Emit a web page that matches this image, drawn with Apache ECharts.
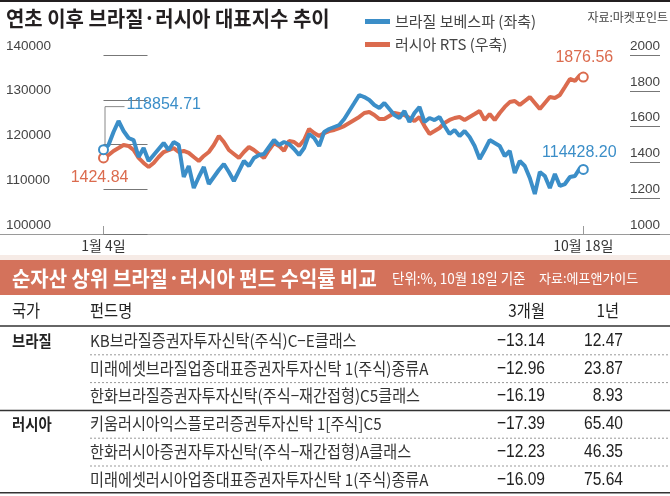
<!DOCTYPE html>
<html>
<head>
<meta charset="utf-8">
<script src="https://cdn.jsdelivr.net/npm/echarts@6/dist/echarts.min.js"></script>
<style>
  html, body { margin: 0; padding: 0; background: #fff; }
  #chart { width: 670px; height: 496px; }
</style>
</head>
<body>
<div id="chart"></div>
<script>
// days since 2021-01-04
const dayOffsets = [
  0, 3, 6, 9, 12, 15, 18, 21, 24, 27,
  30, 33, 36, 39, 42, 45, 48, 51, 54, 57,
  60, 63, 66, 69, 72, 75, 78, 81, 84, 87,
  90, 93, 96, 99, 102, 105, 108, 111, 114, 117,
  120, 123, 126, 129, 132, 135, 138, 141, 144, 147,
  150, 153, 156, 159, 162, 165, 168, 171, 174, 177,
  180, 183, 186, 189, 192, 195, 198, 201, 204, 207,
  210, 213, 216, 219, 222, 225, 228, 231, 234, 237,
  240, 243, 246, 249, 252, 255, 258, 261, 264, 267,
  270, 273, 276, 279, 282, 285, 287
];

// 브라질 보베스파 (좌축)
const bovespa = [
  118854.71, 119890, 122790, 125250, 123020, 121450, 121000, 117210, 119220, 116310,
  117650, 118990, 120330, 118770, 120560, 119890, 112740, 115200, 110280, 112740,
  114970, 111170, 112740, 114300, 115640, 113850, 111840, 114080, 116310, 115200,
  116980, 117650, 117880, 119440, 121000, 119890, 120560, 120110, 118990, 117650,
  119220, 122350, 121450, 119660, 122790, 123460, 123910, 124360, 125700, 127490,
  129270, 131060, 130610, 129940, 128830, 128160, 129270, 127930, 126590, 125920,
  127490, 125030, 127040, 128380, 125030, 125920, 125470, 126150, 124130, 122350,
  123240, 121900, 123020, 121680, 119660, 116760, 118770, 121000, 120330, 119660,
  117430, 118550, 113630, 116310, 115200, 112510, 108940, 113850, 112960, 110280,
  113410, 110730, 111170, 112740, 112960, 114750, 114428.20
];

// 러시아 RTS (우축)
const rts = [
  1424.84, 1441, 1464, 1480, 1497, 1492, 1469, 1425, 1397, 1374,
  1397, 1430, 1458, 1469, 1480, 1458, 1464, 1453, 1430, 1408,
  1436, 1458, 1497, 1548, 1514, 1469, 1447, 1425, 1458, 1486,
  1469, 1447, 1425, 1469, 1508, 1492, 1464, 1520, 1514, 1492,
  1525, 1587, 1564, 1548, 1564, 1575, 1581, 1592, 1603, 1620,
  1637, 1654, 1676, 1682, 1665, 1642, 1642, 1659, 1676, 1670,
  1665, 1648, 1631, 1654, 1603, 1559, 1575, 1592, 1620, 1637,
  1648, 1654, 1637, 1654, 1670, 1687, 1637, 1670, 1637, 1676,
  1710, 1737, 1743, 1721, 1743, 1765, 1732, 1698, 1732, 1765,
  1760, 1777, 1821, 1866, 1855, 1888, 1876.56
];

const xTickDays = [0, 287];
const xTickLabels = ['1월 4일', '10월 18일'];

// table
const rowCountry = ['브라질', '브라질', '브라질', '러시아', '러시아', '러시아'];
const fundNames = [
  'KB브라질증권자투자신탁(주식)C−E클래스',
  '미래에셋브라질업종대표증권자투자신탁 1(주식)종류A',
  '한화브라질증권자투자신탁(주식−재간접형)C5클래스',
  '키움러시아익스플로러증권투자신탁 1[주식]C5',
  '한화러시아증권자투자신탁(주식−재간접형)A클래스',
  '미래에셋러시아업종대표증권자투자신탁 1(주식)종류A'
];
const ret3m = [-13.14, -12.96, -16.19, -17.39, -12.23, -16.09];
const ret1y = [12.47, 23.87, 8.93, 65.40, 46.35, 75.64];

const BLUE = '#3b8ec8';
const RED = '#db6b4e';
const KR = "'Noto Sans CJK KR', sans-serif";
const NUM = "'Liberation Sans', Arial, sans-serif";

const chart = echarts.init(document.getElementById('chart'));

function endItem(i, vals, color, labelOpt) {
  const item = { value: [dayOffsets[i], vals[i]] };
  item.itemStyle = { color: '#fff', borderColor: color, borderWidth: 2 };
  item.label = Object.assign({
    show: true,
    distance: 0,
    verticalAlign: 'middle',
    color: color,
    fontSize: 16,
    fontFamily: NUM,
    formatter: p => p.value[1].toFixed(2)
  }, labelOpt);
  return item;
}

function buildData(vals, color, firstLabel, lastLabel) {
  const last = vals.length - 1;
  return vals.map((v, i) => {
    if (i === 0) return endItem(i, vals, color, firstLabel);
    if (i === last) return endItem(i, vals, color, lastLabel);
    return [dayOffsets[i], v];
  });
}

function lineSeries(name, vals, color, axis, firstLabel, lastLabel) {
  const last = vals.length - 1;
  return {
    name: name,
    type: 'line',
    yAxisIndex: axis,
    data: buildData(vals, color, firstLabel, lastLabel),
    symbol: 'circle',
    showSymbol: true,
    symbolSize: (v, p) => (p.dataIndex === 0 || p.dataIndex === last) ? 9 : 0,
    itemStyle: { color: color },
    lineStyle: { color: color, width: 4 },
    emphasis: { disabled: true },
    silent: true
  };
}

const yLabel = {
  inside: true, margin: 0, verticalAlign: 'bottom',
  padding: [0, 0, 2, 0], fontFamily: NUM, fontSize: 13.5, color: '#444',
  formatter: v => String(v)
};

chart.setOption({
  animation: false,
  grid: { left: 0, right: 0, top: 55, bottom: 262 },
  legend: {
    left: 360,
    top: 9,
    orient: 'vertical',
    icon: 'rect',
    itemWidth: 25,
    itemHeight: 5,
    itemGap: 8,
    itemStyle: { borderWidth: 0 },
    textStyle: { fontFamily: KR, fontSize: 15, color: '#444', lineHeight: 15 },
    data: ['브라질 보베스파 (좌축)', '러시아 RTS (우축)']
  },
  xAxis: {
    type: 'value',
    min: -61.91,
    max: 338.86,
    axisLine: { show: true, lineStyle: { color: '#9a9a9a', width: 1 } },
    splitLine: { show: false },
    axisTick: { show: true, inside: true, length: 8, customValues: xTickDays, lineStyle: { color: '#9a9a9a' } },
    axisLabel: {
      customValues: xTickDays,
      margin: 5,
      fontFamily: KR,
      fontSize: 14,
      color: '#333',
      formatter: v => xTickLabels[xTickDays.indexOf(v)] || ''
    }
  },
  yAxis: [
    {
      type: 'value', min: 100000, max: 140000, interval: 10000,
      position: 'left', offset: -6,
      axisLine: { show: false },
      splitLine: { show: false },
      axisTick: { show: true, inside: true, length: 44, lineStyle: { color: '#777' } },
      axisLabel: Object.assign({ align: 'left' }, yLabel)
    },
    {
      type: 'value', min: 1000, max: 2000, interval: 200,
      position: 'right', offset: -10,
      axisLine: { show: false },
      splitLine: { show: false },
      axisTick: { show: true, inside: true, length: 30, lineStyle: { color: '#777' } },
      axisLabel: Object.assign({ align: 'right' }, yLabel)
    }
  ],
  series: [
    lineSeries('러시아 RTS (우축)', rts, RED, 1,
      { position: 'bottom', align: 'right', offset: [25, 14] },
      { position: 'top', align: 'center', offset: [1, -14] }),
    lineSeries('브라질 보베스파 (좌축)', bovespa, BLUE, 0,
      { position: 'top', align: 'left', offset: [23, -40] },
      { position: 'top', align: 'center', offset: [-4, -11] })
  ]
});

function txt(x, y, text, size, o) {
  o = o || {};
  const align = o.align || 'left';
  return {
    type: 'text', x: x, y: y, scaleX: o.sx || 1, silent: true,
    style: {
      text: text,
      fill: o.color || '#222',
      fontSize: size,
      fontFamily: o.family || KR,
      fontWeight: o.weight || 'normal',
      align: align, textAlign: align,
      verticalAlign: 'middle', textVerticalAlign: 'middle'
    }
  };
}

function hline(y, x1, x2, color, width, dash) {
  return {
    type: 'line', silent: true,
    shape: { x1: x1, y1: y, x2: x2, y2: y },
    style: { stroke: color, lineWidth: width, lineDash: dash || null }
  };
}

const g = [];
g.push({ type: 'rect', silent: true, shape: { x: 0, y: 0, width: 670, height: 2 }, style: { fill: '#231f20' } });
g.push(txt(6, 18, '연초 이후 브라질·러시아 대표지수 추이', 21, { weight: 'bold', sx: 0.95, color: '#231f20' }));
g.push(txt(668, 17, '자료:마켓포인트', 12, { align: 'right', color: '#444' }));

// leader line for the first Bovespa value
const p0 = chart.convertToPixel({ seriesIndex: 1 }, [dayOffsets[0], bovespa[0]]);
g.push({
  type: 'polyline', silent: true,
  shape: { points: [[p0[0] + 1.5, p0[1] - 4], [p0[0] + 1.5, p0[1] - 43], [p0[0] + 21, p0[1] - 43]] },
  style: { stroke: '#888', lineWidth: 1, fill: null }
});

// table block
g.push({ type: 'rect', silent: true, shape: { x: 0, y: 255, width: 670, height: 5 }, style: { fill: '#f6ebe6' } });
g.push({ type: 'rect', silent: true, shape: { x: 0, y: 260, width: 670, height: 35 }, style: { fill: '#d4725b' } });
g.push(txt(12, 278, '순자산 상위 브라질·러시아 펀드 수익률 비교', 21, { weight: 'bold', sx: 0.95, color: '#fff' }));
g.push(txt(392, 278.5, '단위:%, 10월 18일 기준', 15, { sx: 0.9, color: '#fff' }));
g.push(txt(539, 278.5, '자료:에프앤가이드', 13, { color: '#fff' }));

g.push(txt(12, 311, '국가', 17, { sx: 0.9 }));
g.push(txt(90, 311, '펀드명', 17, { sx: 0.9 }));
g.push(txt(545, 311, '3개월', 17, { sx: 0.9, align: 'right' }));
g.push(txt(619, 311, '1년', 17, { sx: 0.9, align: 'right' }));
g.push(hline(326, 0, 670, '#333', 1.5));

const rowTop = 327;
const rowH = 27.8;
fundNames.forEach((name, i) => {
  const cy = rowTop + rowH * i + 13.5;
  if (i === 0 || rowCountry[i] !== rowCountry[i - 1]) {
    g.push(txt(12, cy, rowCountry[i], 16, { weight: 'bold', sx: 0.9 }));
  }
  g.push(txt(90, cy, name, 16.5, { sx: 0.92, color: '#333' }));
  g.push(txt(545, cy, ret3m[i].toFixed(2).replace('-', '−'), 19, { family: NUM, sx: 0.82, align: 'right' }));
  g.push(txt(623, cy, ret1y[i].toFixed(2), 19, { family: NUM, sx: 0.82, align: 'right' }));
  const by = rowTop + rowH * (i + 1);
  const last = i === fundNames.length - 1;
  if (last) {
    g.push(hline(by - 1, 0, 670, '#333', 1.5));
  } else if (rowCountry[i] !== rowCountry[i + 1]) {
    g.push(hline(by, 0, 670, '#333', 1.5));
  } else {
    g.push(hline(by, 90, 670, '#999', 1, [2, 2]));
  }
});

chart.setOption({ graphic: { elements: g } });
</script>
</body>
</html>
